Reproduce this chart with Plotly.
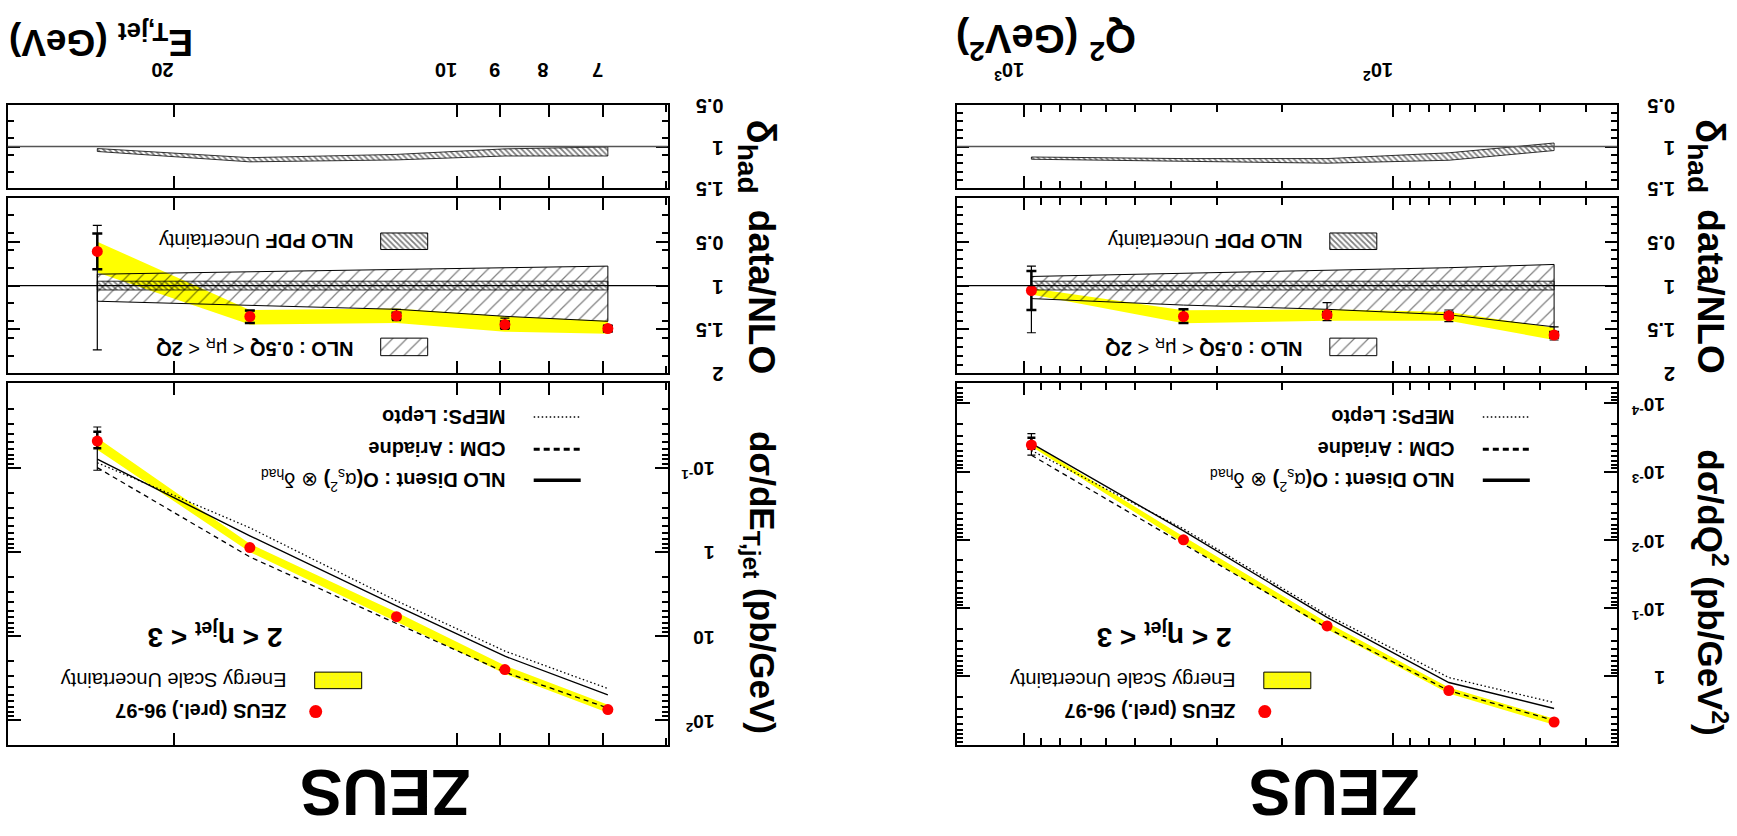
import math
import plotly.graph_objects as go

W, H = 1737, 836
FONT = "Liberation Sans"

# ---------------- Q^2 column ----------------
q2_x = [956, 370, 151, 70.6, 36.6]
q2_xsec = [4.06e-4, 1.00e-2, 0.182, 1.61, 4.66]
q2_xsec_stat_lo = [3.18e-4, 0.0098, 0.178, 1.58, 4.58]
q2_xsec_stat_hi = [4.62e-4, 0.0102, 0.186, 1.64, 4.74]
q2_xsec_syst_lo = [2.77e-4, 0.0098, 0.178, 1.58, 4.58]
q2_xsec_syst_hi = [5.75e-4, 0.0102, 0.186, 1.64, 4.74]
q2_escale_lo = [3.84e-4, 8.9e-3, 0.162, 1.45, 4.17]
q2_escale_hi = [4.27e-4, 1.12e-2, 0.204, 1.78, 5.13]
q2_nlo = [3.85e-4, 7.4e-3, 0.137, 1.23, 2.95]
q2_cdm = [5.75e-4, 1.14e-2, 0.195, 1.62, 4.41]
q2_meps = [4.9e-4, 6.9e-3, 0.126, 1.04, 2.42]

q2_ratio = [1.056, 1.352, 1.333, 1.344, 1.563]
q2_ratio_stat_lo = [0.833, 1.27, 1.30, 1.31, 1.53]
q2_ratio_stat_hi = [1.278, 1.426, 1.36, 1.37, 1.59]
q2_ratio_syst_lo = [0.778, 1.27, 1.193, 1.278, 1.47]
q2_ratio_syst_hi = [1.537, 1.426, 1.40, 1.41, 1.62]
q2_ratio_escale_lo = [1.03, 1.28, 1.27, 1.30, 1.48]
q2_ratio_escale_hi = [1.10, 1.43, 1.40, 1.40, 1.62]
q2_scale_lo = [0.896, 0.859, 0.826, 0.796, 0.759]
q2_scale_hi = [1.148, 1.222, 1.27, 1.333, 1.47]
q2_pdf_lo = [0.95, 0.95, 0.95, 0.95, 0.95]
q2_pdf_hi = [1.05, 1.05, 1.05, 1.05, 1.05]
q2_had_lo = [1.124, 1.143, 1.143, 1.074, 0.957]
q2_had_hi = [1.151, 1.174, 1.198, 1.163, 1.047]

# ---------------- E_T,jet column ----------------
et_x = [24.1, 16.6, 11.6, 8.9, 6.92]
et_xsec = [0.0483, 0.891, 5.90, 25.1, 74.8]
et_xsec_stat_lo = [0.0376, 0.87, 5.78, 24.6, 73.3]
et_xsec_stat_hi = [0.0587, 0.91, 6.02, 25.6, 76.3]
et_xsec_syst_lo = [0.0329, 0.87, 5.78, 24.6, 73.3]
et_xsec_syst_hi = [0.1074, 0.91, 6.02, 25.6, 76.3]
et_escale_lo = [0.0442, 0.805, 5.21, 22.5, 65.5]
et_escale_hi = [0.0614, 1.007, 6.79, 28.2, 81.8]
et_nlo = [0.0794, 0.646, 4.40, 17.4, 50.1]
et_cdm = [0.100, 1.15, 7.11, 26.9, 71.8]
et_meps = [0.0875, 0.518, 3.82, 15.1, 42.1]

et_ratio = [0.611, 1.352, 1.344, 1.444, 1.489]
et_ratio_stat_lo = [0.407, 1.285, 1.31, 1.41, 1.46]
et_ratio_stat_hi = [0.815, 1.426, 1.38, 1.48, 1.52]
et_ratio_syst_lo = [0.315, 1.285, 1.27, 1.37, 1.45]
et_ratio_syst_hi = [1.733, 1.426, 1.40, 1.50, 1.53]
et_ratio_escale_lo = [0.50, 1.278, 1.26, 1.35, 1.40]
et_ratio_escale_hi = [0.85, 1.444, 1.426, 1.526, 1.548]
et_scale_lo = [0.870, 0.848, 0.822, 0.796, 0.778]
et_scale_hi = [1.178, 1.222, 1.27, 1.35, 1.407]
et_pdf_lo = [0.95, 0.95, 0.95, 0.95, 0.95]
et_pdf_hi = [1.05, 1.05, 1.05, 1.05, 1.05]
et_had_lo = [1.023, 1.132, 1.093, 1.027, 1.004]
et_had_hi = [1.058, 1.182, 1.159, 1.112, 1.112]

# tick labels
q2_xticks = [100, 1000]
q2_xticktext = ["10<sup>2</sup>", "10<sup>3</sup>"]
et_xticks = [7, 8, 9, 10, 20]
et_xticktext = ["7", "8", "9", "10", "20"]
q2_yticks = [1e-4, 1e-3, 1e-2, 1e-1, 1]
q2_yticktext = ["10<sup>-4</sup>", "10<sup>-3</sup>", "10<sup>-2</sup>", "10<sup>-1</sup>", "1"]
et_yticks = [0.1, 1, 10, 100]
et_yticktext = ["10<sup>-1</sup>", "1", "10", "10<sup>2</sup>"]
ratio_ticks = [0.5, 1, 1.5, 2]
ratio_ticktext = ["0.5", "1", "1.5", "2"]
had_ticks = [0.5, 1, 1.5]
had_ticktext = ["0.5", "1", "1.5"]

# ---------------- geometry (pixels of the 1737x836 page) ----------------
Y_HAD = (97.3, 183.3)
Y_RAT = (192.9, 373.2)
Y_MAIN = (383.3, 755.0)
COLS = {"q2": (956.8, 1617.1), "et": (7.7, 667.6)}


def ydom(t):
    return [1 - t[1] / H, 1 - t[0] / H]


def xdom(t):
    return [t[0] / W, t[1] / W]


def log_minor(lo_exp, hi_exp, vmin, vmax):
    out = []
    for k in range(lo_exp, hi_exp + 1):
        for m in range(2, 10):
            v = m * 10 ** k
            if vmin < v < vmax:
                out.append(v)
    return out


fig = go.Figure()

AX = dict(showline=True, linecolor="black", linewidth=2, mirror="ticks",
          ticks="inside", tickcolor="black", tickwidth=1.5,
          showgrid=False, zeroline=False)
TF = dict(family=FONT, size=20, color="black", weight="bold")
YSHIFT = -7


def band(xs, lo, hi, xa, ya, **kw):
    xx = list(xs) + list(xs)[::-1] + [xs[0]]
    yy = list(hi) + list(lo)[::-1] + [hi[0]]
    fig.add_trace(go.Scatter(x=xx, y=yy, fill="toself", mode="lines",
                             xaxis=xa, yaxis=ya, hoverinfo="skip",
                             showlegend=False, **kw))


def errs(xs, y, lo, hi, xa, ya, thick, width):
    fig.add_trace(go.Scatter(
        x=xs, y=y, mode="markers", marker=dict(size=1, color="rgba(0,0,0,0)"),
        error_y=dict(type="data", symmetric=False,
                     array=[h - v for h, v in zip(hi, y)],
                     arrayminus=[v - l for v, l in zip(y, lo)],
                     color="black", thickness=thick, width=width),
        xaxis=xa, yaxis=ya, showlegend=False, hoverinfo="skip"))


def line(xs, y, xa, ya, dash, width=1.3):
    fig.add_trace(go.Scatter(x=xs, y=y, mode="lines",
                             line=dict(color="black", width=width, dash=dash),
                             xaxis=xa, yaxis=ya, showlegend=False))


def dots(xs, y, xa, ya, size=11):
    fig.add_trace(go.Scatter(x=xs, y=y, mode="markers",
                             marker=dict(color="#ff0000", size=size),
                             xaxis=xa, yaxis=ya, showlegend=False))


HATCH_SCALE = dict(shape="/", fgcolor="black", size=10, solidity=0.12)
HATCH_DENSE = dict(shape="\\", fgcolor="black", size=4, solidity=0.45)

panels = [
    dict(key="q2", n=1, xs=q2_x, xsec=q2_xsec, st=(q2_xsec_stat_lo, q2_xsec_stat_hi),
         sy=(q2_xsec_syst_lo, q2_xsec_syst_hi), es=(q2_escale_lo, q2_escale_hi),
         nlo=q2_nlo, cdm=q2_cdm, meps=q2_meps, r=q2_ratio,
         rst=(q2_ratio_stat_lo, q2_ratio_stat_hi), rsy=(q2_ratio_syst_lo, q2_ratio_syst_hi),
         res=(q2_ratio_escale_lo, q2_ratio_escale_hi), sc=(q2_scale_lo, q2_scale_hi),
         pdf=(q2_pdf_lo, q2_pdf_hi), had=(q2_had_lo, q2_had_hi)),
    dict(key="et", n=4, xs=et_x, xsec=et_xsec, st=(et_xsec_stat_lo, et_xsec_stat_hi),
         sy=(et_xsec_syst_lo, et_xsec_syst_hi), es=(et_escale_lo, et_escale_hi),
         nlo=et_nlo, cdm=et_cdm, meps=et_meps, r=et_ratio,
         rst=(et_ratio_stat_lo, et_ratio_stat_hi), rsy=(et_ratio_syst_lo, et_ratio_syst_hi),
         res=(et_ratio_escale_lo, et_ratio_escale_hi), sc=(et_scale_lo, et_scale_hi),
         pdf=(et_pdf_lo, et_pdf_hi), had=(et_had_lo, et_had_hi)),
]

for p in panels:
    n = p["n"]
    xm, ym = "x%d" % n, "y%d" % n
    xr, yr = "x%d" % (n + 1), "y%d" % (n + 1)
    xh, yh = "x%d" % (n + 2), "y%d" % (n + 2)
    xs = p["xs"]
    # main
    band(xs, p["es"][0], p["es"][1], xm, ym, fillcolor="#ffff00", line=dict(width=0))
    line(xs, p["nlo"], xm, ym, "solid", 1.4)
    line(xs, p["cdm"], xm, ym, "5px,4px", 1.3)
    line(xs, p["meps"], xm, ym, "1.5px,2.5px", 1.3)
    errs(xs, p["xsec"], p["sy"][0], p["sy"][1], xm, ym, 1.2, 4)
    errs(xs, p["xsec"], p["st"][0], p["st"][1], xm, ym, 2.5, 4)
    dots(xs, p["xsec"], xm, ym)
    # ratio
    band(xs, p["res"][0], p["res"][1], xr, yr, fillcolor="#ffff00", line=dict(width=0))
    band(xs, p["sc"][0], p["sc"][1], xr, yr, fillcolor="rgba(0,0,0,0)",
         line=dict(color="black", width=1), fillpattern=HATCH_SCALE)
    band(xs, p["pdf"][0], p["pdf"][1], xr, yr, fillcolor="rgba(0,0,0,0)",
         line=dict(color="black", width=0.8), fillpattern=HATCH_DENSE)
    errs(xs, p["r"], p["rsy"][0], p["rsy"][1], xr, yr, 1.2, 4.5)
    errs(xs, p["r"], p["rst"][0], p["rst"][1], xr, yr, 2.5, 5)
    dots(xs, p["r"], xr, yr)
    # hadronisation correction
    band(xs, p["had"][0], p["had"][1], xh, yh, fillcolor="rgba(0,0,0,0)",
         line=dict(color="black", width=0.8), fillpattern=HATCH_DENSE)
    fig.add_shape(type="line", xref="%s domain" % xr, yref=yr, x0=0, x1=1, y0=1, y1=1,
                  line=dict(color="black", width=1.2))
    fig.add_shape(type="line", xref="%s domain" % xh, yref=yh, x0=0, x1=1, y0=1, y1=1,
                  line=dict(color="#555555", width=1.5))

layout = dict(width=W, height=H, margin=dict(l=0, r=0, t=0, b=0),
              paper_bgcolor="white", plot_bgcolor="rgba(0,0,0,0)", showlegend=False)

# x axes
q2_range = [math.log10(1523), math.log10(24.7)]
et_range = [math.log10(30.0), math.log10(5.98)]
q2_xminor = [30, 40, 50, 60, 70, 80, 90, 200, 300, 400, 500, 600, 700, 800, 900]
et_xminor = [6]
for key, n, rng, tv, tt, mv in [("q2", 1, q2_range, q2_xticks, q2_xticktext, q2_xminor),
                                ("et", 4, et_range, et_xticks, et_xticktext, et_xminor)]:
    for i in range(3):
        ax = dict(AX, type="log", range=rng, domain=xdom(COLS[key]), anchor="y%d" % (n + i),
                  tickmode="array", tickvals=tv, ticktext=tt, ticklen=12,
                  minor=dict(tickvals=mv, ticks="inside", ticklen=7, tickcolor="black", tickwidth=1.5))
        if i == 2:
            ax.update(side="top", showticklabels=True, tickangle=180, tickfont=TF,
                      ticklabelstandoff=12)
        else:
            ax.update(showticklabels=False)
        layout["xaxis%d" % (n + i)] = ax

# y axes
q2_yminor = log_minor(-5, 0, 5.07e-5, 10.1)
et_yminor = log_minor(-2, 1, 0.0100, 198)
ratio_minor_q2 = [round(0.1 * k, 1) for k in range(1, 20) if k % 5 != 0]
ratio_minor_et = [0.2, 0.4, 0.6, 0.8, 1.2, 1.4, 1.6, 1.8]
had_minor_q2 = [0.6, 0.7, 0.8, 0.9, 1.1, 1.2, 1.3, 1.4]
had_minor_et = [0.7, 0.9, 1.1, 1.3]

for key, n, mrange, mtv, mtt, mminor, rminor, hminor, so_main, so_lin in [
        ("q2", 1, [1.007, -4.295], q2_yticks, q2_yticktext, q2_yminor, ratio_minor_q2, had_minor_q2, 42, 52),
        ("et", 4, [2.297, -2.003], et_yticks, et_yticktext, et_yminor, ratio_minor_et, had_minor_et, 41, 50)]:
    mn = dict(ticks="inside", ticklen=6, tickcolor="black", tickwidth=1.5)
    layout["yaxis%d" % n] = dict(AX, type="log", range=mrange, domain=ydom(Y_MAIN),
                                 anchor="x%d" % n, side="right", tickangle=180,
                                 tickmode="array", tickvals=mtv, ticktext=mtt, ticklen=13,
                                 tickfont=dict(TF, size=19), ticklabelstandoff=so_main,
                                 ticklabelshift=YSHIFT, minor=dict(mn, tickvals=mminor))
    layout["yaxis%d" % (n + 1)] = dict(AX, range=[2, 0], domain=ydom(Y_RAT),
                                       anchor="x%d" % (n + 1), side="right", tickangle=180,
                                       tickmode="array", tickvals=ratio_ticks,
                                       ticktext=ratio_ticktext, ticklen=12, tickfont=TF,
                                       ticklabelstandoff=so_lin, ticklabelshift=YSHIFT,
                                       minor=dict(mn, tickvals=rminor))
    layout["yaxis%d" % (n + 2)] = dict(AX, range=[1.5, 0.5], domain=ydom(Y_HAD),
                                       anchor="x%d" % (n + 2), side="right", tickangle=180,
                                       tickmode="array", tickvals=had_ticks,
                                       ticktext=had_ticktext, ticklen=12, tickfont=TF,
                                       ticklabelstandoff=so_lin, ticklabelshift=YSHIFT,
                                       minor=dict(mn, tickvals=hminor))

# pixel overlay for titles / legend keys
layout["xaxis7"] = dict(domain=[0, 1], range=[0, W], visible=False, anchor="y7", fixedrange=True)
layout["yaxis7"] = dict(domain=[0, 1], range=[H, 0], visible=False, anchor="x7", fixedrange=True)
fig.update_layout(**layout)


def txt(x, y, text, size, angle=180, xanchor="center", bold=True):
    fig.add_annotation(x=x, y=y, xref="x7", yref="y7", text=text, showarrow=False,
                       textangle=angle, xanchor=xanchor, yanchor="middle",
                       font=dict(family=FONT, size=size, color="black",
                                 weight="bold" if bold else "normal"))


def key_box(x0, x1, y0, y1, **kw):
    fig.add_trace(go.Scatter(x=[x0, x1, x1, x0, x0], y=[y0, y0, y1, y1, y0], mode="lines",
                             fill="toself", line=dict(color="black", width=1),
                             xaxis="x7", yaxis="y7", showlegend=False, hoverinfo="skip", **kw))


def key_line(x0, x1, y, dash, width):
    fig.add_trace(go.Scatter(x=[x0, x1], y=[y, y], mode="lines",
                             line=dict(color="black", width=width, dash=dash),
                             xaxis="x7", yaxis="y7", showlegend=False, hoverinfo="skip"))


for key in ["q2", "et"]:
    FL, FR = COLS[key]
    # main-panel legend
    key_line(FL + 526, FL + 573, 418, "1.5px,2.5px", 1.5)
    key_line(FL + 526, FL + 573, 451, "6px,4px", 3)
    key_line(FL + 526, FL + 573, 483, "solid", 3.5)
    txt(FL + 500, 418, "MEPS: Lepto", 20, xanchor="right")
    txt(FL + 500, 451, "CDM : Ariadne", 20, xanchor="right")
    txt(FL + 500, 483, "<b>NLO Disent : O(</b>α<sub>s</sub><sup>2</sup><b>)</b> ⊗ δ<sub>had</sub>",
        20, xanchor="right", bold=False)
    txt(FL + 207, 643, "2 &lt; η<sub>jet</sub> &lt; 3", 28)
    key_box(FL + 307, FL + 354, 680, 697, fillcolor="#ffff00",
            fillpattern=dict(shape="+", fgcolor="#d9d98c", bgcolor="#ffff00", size=4, solidity=0.2))
    txt(FL + 281, 688, "Energy Scale Uncertainty", 20, xanchor="right", bold=False)
    fig.add_trace(go.Scatter(x=[FL + 308], y=[720.5], mode="markers",
                             marker=dict(color="#ff0000", size=13),
                             xaxis="x7", yaxis="y7", showlegend=False))
    txt(FL + 281, 720, "ZEUS (prel.) 96-97", 20, xanchor="right")
    txt(FL + 377, 803, "ZEUS", 64)
    # ratio legend
    key_box(FL + 373, FL + 420, 229, 246, fillcolor="white", fillpattern=HATCH_DENSE)
    txt(FL + 348, 237, "<b>NLO PDF</b> Uncertainty", 20, xanchor="right", bold=False)
    key_box(FL + 373, FL + 420, 337, 355, fillcolor="white", fillpattern=HATCH_SCALE)
    txt(FL + 348, 346, "<b>NLO : 0.5Q</b> &lt; μ<sub>R</sub> &lt; <b>2Q</b>", 20,
        xanchor="right", bold=False)
    # y titles
    txt(FR + 90, 150, "δ<sub>had</sub>", 40, angle=90)
    txt(FR + 94, 289, "data/NLO", 37, angle=90)

txt(1712, 598, "dσ/dQ<sup>2</sup> (pb/GeV<sup>2</sup>)", 35, angle=90)
txt(COLS["et"][1] + 93, 588, "dσ/dE<sub>T,jet</sub> (pb/GeV)", 35, angle=90)
txt(1046, 33, "Q<sup>2</sup> (GeV<sup>2</sup>)", 40)
txt(101, 31, "E<sub>T,jet</sub> (GeV)", 37)

fig.write_html("out.html")
